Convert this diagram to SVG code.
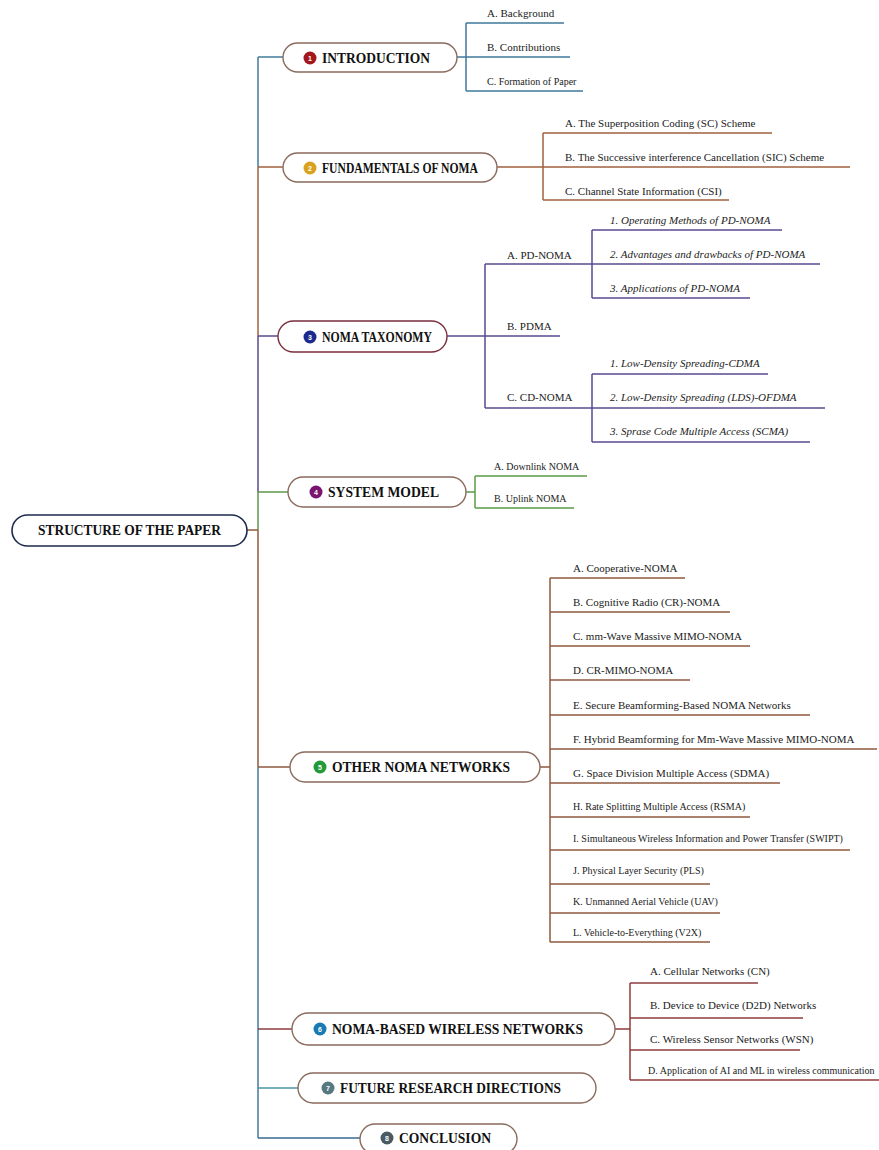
<svg xmlns="http://www.w3.org/2000/svg" width="879" height="1150" viewBox="0 0 879 1150">
<style>
  .box{fill:#fff;stroke:#8a6a5c;stroke-width:1.4}
  .root{fill:#fff;stroke:#1c2a4e;stroke-width:1.6}
  .t{font-family:"Liberation Serif","Times New Roman",serif;font-weight:bold;font-size:14px;fill:#111}
  .s{font-family:"Liberation Serif","Times New Roman",serif;font-size:11px;fill:#222}
  .si{font-family:"Liberation Serif","Times New Roman",serif;font-size:11px;font-style:italic;fill:#222}
  .xs{font-family:"Liberation Serif","Times New Roman",serif;font-size:10px;fill:#222}
  .n{font-family:"Liberation Sans",Arial,sans-serif;font-weight:bold;font-size:7px;fill:#fff}
  .c path{fill:none;stroke-width:1.5}
  .bl{stroke:#3f7a9a}.br{stroke:#a0623e}.pu{stroke:#5a4a8e}.gr{stroke:#5c9a4a}.ob{stroke:#8e5a3e}.rd{stroke:#8e3c3c}.te{stroke:#4a96a6}.cb{stroke:#3a6a8e}
</style>

<!-- connectors -->
<g id="connectors" class="c">
  <!-- trunk -->
  <path class="bl" d="M258 57V167"/>
  <path class="br" d="M258 167V336"/>
  <path class="pu" d="M258 336V492"/>
  <path class="gr" d="M258 492V530"/>
  <path class="ob" d="M258 530V767"/>
  <path class="bl" d="M258 767V1138"/>
  <!-- trunk to sections -->
  <path class="bl" d="M258 57H283"/>
  <path class="br" d="M258 167H283"/>
  <path class="pu" d="M258 336H278"/>
  <path class="gr" d="M258 492H288"/>
  <path class="ob" d="M247 530H258"/>
  <path class="ob" d="M258 767H290"/>
  <path class="rd" d="M258 1029H292"/>
  <path class="te" d="M258 1088H298"/>
  <path class="cb" d="M258 1138H360"/>
  <!-- 1 introduction -->
  <path class="bl" d="M457 57H466M466 23V91M466 23H564M466 57H570M466 91H583"/>
  <!-- 2 fundamentals -->
  <path class="br" d="M497 167H543M543 133V200M543 133H772M543 167H850M543 200H729"/>
  <!-- 3 taxonomy -->
  <path class="pu" d="M447 336H485M485 264V408M485 264H592M485 336H560M485 408H592"/>
  <path class="pu" d="M592 230V298M592 230H782M592 264H820M592 298H750"/>
  <path class="pu" d="M592 374V442M592 374H768M592 408H825M592 442H810"/>
  <!-- 4 system model -->
  <path class="gr" d="M466 492H475M475 476V508M475 476H587M475 508H574"/>
  <!-- 5 other networks -->
  <path class="ob" d="M540 767H550M550 578V942M550 578H685M550 612H730M550 646H750M550 680H690M550 715H810M550 749H877M550 783H780M550 817H750M550 850H850M550 884H710M550 913H720M550 942H710"/>
  <!-- 6 noma-based -->
  <path class="rd" d="M615 1029H630M630 983V1080M630 983H758M630 1018H803M630 1050H800M630 1080H879"/>
</g>

<!-- root -->
<g id="root">
  <rect class="root" x="12" y="515" width="235" height="31" rx="15.5"/>
  <text class="t" x="38" y="535" textLength="183" lengthAdjust="spacingAndGlyphs">STRUCTURE OF THE PAPER</text>
</g>

<!-- 1 -->
<g id="n1">
  <rect class="box" x="283" y="43" width="174" height="29" rx="14.5"/>
  <circle cx="310" cy="58" r="6.5" fill="#a3161c"/>
  <text class="n" x="310" y="60.5" text-anchor="middle">1</text>
  <text class="t" x="322" y="63" textLength="108" lengthAdjust="spacingAndGlyphs">INTRODUCTION</text>
</g>
<g id="n1a"><text class="s" x="487" y="17">A. Background</text></g>
<g id="n1b"><text class="s" x="487" y="51">B. Contributions</text></g>
<g id="n1c"><text class="xs" x="487" y="85">C. Formation of Paper</text></g>

<!-- 2 -->
<g id="n2">
  <rect class="box" x="283" y="153" width="214" height="29" rx="14.5"/>
  <circle cx="310" cy="168" r="6.5" fill="#d9a21e"/>
  <text class="n" x="310" y="170.5" text-anchor="middle">2</text>
  <text class="t" x="322" y="173" textLength="156" lengthAdjust="spacingAndGlyphs">FUNDAMENTALS OF NOMA</text>
</g>
<g id="n2a"><text class="s" x="565" y="127">A. The Superposition Coding (SC) Scheme</text></g>
<g id="n2b"><text class="s" x="565" y="161">B. The Successive interference Cancellation (SIC) Scheme</text></g>
<g id="n2c"><text class="s" x="565" y="195">C. Channel State Information (CSI)</text></g>

<!-- 3 -->
<g id="n3">
  <rect class="box" x="278" y="321" width="169" height="31" rx="15.5" style="stroke:#7a2e3e"/>
  <circle cx="310" cy="337" r="6.5" fill="#1c2a8e"/>
  <text class="n" x="310" y="339.5" text-anchor="middle">3</text>
  <text class="t" x="322" y="342" textLength="110" lengthAdjust="spacingAndGlyphs">NOMA TAXONOMY</text>
</g>
<g id="n3a"><text class="s" x="507" y="259">A. PD-NOMA</text></g>
<g id="n3a1"><text class="si" x="610" y="224">1. Operating Methods of PD-NOMA</text></g>
<g id="n3a2"><text class="si" x="610" y="258">2. Advantages and drawbacks of PD-NOMA</text></g>
<g id="n3a3"><text class="si" x="610" y="292">3. Applications of PD-NOMA</text></g>
<g id="n3b"><text class="s" x="507" y="330">B. PDMA</text></g>
<g id="n3c"><text class="s" x="507" y="401">C. CD-NOMA</text></g>
<g id="n3c1"><text class="si" x="610" y="367">1. Low-Density Spreading-CDMA</text></g>
<g id="n3c2"><text class="si" x="610" y="401">2. Low-Density Spreading (LDS)-OFDMA</text></g>
<g id="n3c3"><text class="si" x="610" y="435">3. Sprase Code Multiple Access (SCMA)</text></g>

<!-- 4 -->
<g id="n4">
  <rect class="box" x="288" y="477" width="178" height="30" rx="15"/>
  <circle cx="316" cy="492" r="6.5" fill="#7a1670"/>
  <text class="n" x="316" y="494.5" text-anchor="middle">4</text>
  <text class="t" x="328" y="497" textLength="111" lengthAdjust="spacingAndGlyphs">SYSTEM MODEL</text>
</g>
<g id="n4a"><text class="xs" x="494" y="470">A. Downlink NOMA</text></g>
<g id="n4b"><text class="xs" x="494" y="502">B. Uplink NOMA</text></g>

<!-- 5 -->
<g id="n5">
  <rect class="box" x="290" y="752" width="250" height="30" rx="15"/>
  <circle cx="320" cy="767" r="6.5" fill="#239a3a"/>
  <text class="n" x="320" y="769.5" text-anchor="middle">5</text>
  <text class="t" x="332" y="772" textLength="178" lengthAdjust="spacingAndGlyphs">OTHER NOMA NETWORKS</text>
</g>
<g id="n5a"><text class="s" x="573" y="572">A. Cooperative-NOMA</text></g>
<g id="n5b"><text class="s" x="573" y="606">B. Cognitive Radio (CR)-NOMA</text></g>
<g id="n5c"><text class="s" x="573" y="640">C. mm-Wave Massive MIMO-NOMA</text></g>
<g id="n5d"><text class="s" x="573" y="674">D. CR-MIMO-NOMA</text></g>
<g id="n5e"><text class="s" x="573" y="709">E. Secure Beamforming-Based NOMA Networks</text></g>
<g id="n5f"><text class="s" x="573" y="743">F. Hybrid Beamforming for Mm-Wave Massive MIMO-NOMA</text></g>
<g id="n5g"><text class="s" x="573" y="777">G. Space Division Multiple Access (SDMA)</text></g>
<g id="n5h"><text class="xs" x="573" y="810">H. Rate Splitting Multiple Access (RSMA)</text></g>
<g id="n5i"><text class="xs" x="573" y="842">I. Simultaneous Wireless Information and Power Transfer (SWIPT)</text></g>
<g id="n5j"><text class="xs" x="573" y="874">J. Physical Layer Security (PLS)</text></g>
<g id="n5k"><text class="xs" x="573" y="905">K. Unmanned Aerial Vehicle (UAV)</text></g>
<g id="n5l"><text class="xs" x="573" y="936">L. Vehicle-to-Everything (V2X)</text></g>

<!-- 6 -->
<g id="n6">
  <rect class="box" x="292" y="1013" width="323" height="32" rx="16"/>
  <circle cx="320" cy="1029" r="6.5" fill="#1a7ab2"/>
  <text class="n" x="320" y="1031.5" text-anchor="middle">6</text>
  <text class="t" x="332" y="1034" textLength="251" lengthAdjust="spacingAndGlyphs">NOMA-BASED WIRELESS NETWORKS</text>
</g>
<g id="n6a"><text class="s" x="650" y="975">A. Cellular Networks (CN)</text></g>
<g id="n6b"><text class="s" x="650" y="1009">B. Device to Device (D2D) Networks</text></g>
<g id="n6c"><text class="s" x="650" y="1043">C. Wireless Sensor Networks (WSN)</text></g>
<g id="n6d"><text class="xs" x="648" y="1074">D. Application of AI and ML in wireless communication</text></g>

<!-- 7 -->
<g id="n7">
  <rect class="box" x="298" y="1073" width="298" height="30" rx="15"/>
  <circle cx="328" cy="1088" r="6.5" fill="#587880"/>
  <text class="n" x="328" y="1090.5" text-anchor="middle">7</text>
  <text class="t" x="340" y="1093" textLength="221" lengthAdjust="spacingAndGlyphs">FUTURE RESEARCH DIRECTIONS</text>
</g>

<!-- 8 -->
<g id="n8">
  <rect class="box" x="360" y="1124" width="157" height="30" rx="15"/>
  <circle cx="387" cy="1138" r="6.5" fill="#4a5a62"/>
  <text class="n" x="387" y="1140.5" text-anchor="middle">8</text>
  <text class="t" x="399" y="1143" textLength="92" lengthAdjust="spacingAndGlyphs">CONCLUSION</text>
</g>
</svg>
